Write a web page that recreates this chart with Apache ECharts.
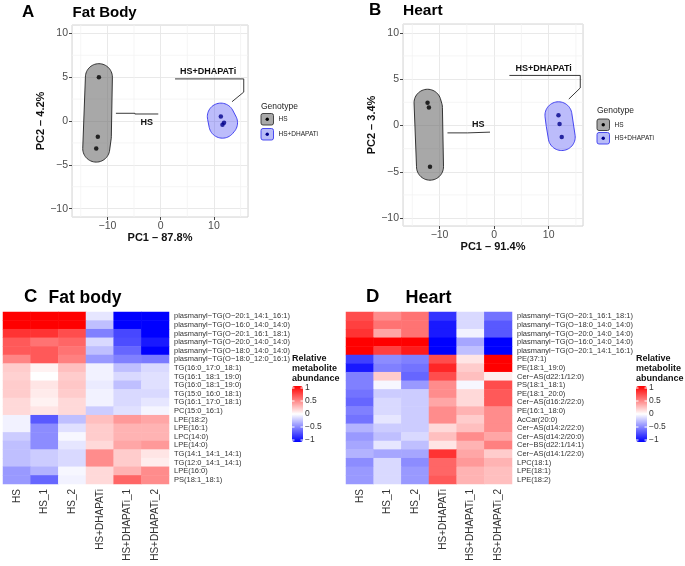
<!DOCTYPE html>
<html><head><meta charset="utf-8">
<script src="https://cdn.jsdelivr.net/npm/echarts@6/dist/echarts.min.js"></script>
<style>html,body{margin:0;padding:0;background:#fff}#c{width:685px;height:566px}</style>
</head><body><div id="c"></div>
<script>
const FONT = '"Liberation Sans", Arial, Helvetica, sans-serif';

// ---------- PCA data ----------
const fbHS = [[-11.6, 5.0], [-11.8, -1.8], [-12.1, -3.15]];
const fbDH = [[11.3, 0.5], [11.9, -0.2], [11.6, -0.42]];
const hrHS = [[-12.2, 2.45], [-11.95, 1.95], [-11.75, -4.45]];
const hrDH = [[11.8, 1.1], [12.0, 0.17], [12.4, -1.25]];
const minorX = [-15, -5, 5, 15];
const minorY = [-7.5, -2.5, 2.5, 7.5];
const groupNames = ['HS', 'HS+DHAPATi'];

// label annotations (data coordinates)
const fbAnno = [
  {label: 'HS', text: [-2.6, -0.12], line: [[-8.4, 0.88], [-4.85, 0.88], [-4.85, 0.8], [-0.45, 0.8]]},
  {label: 'HS+DHAPATi', text: [8.9, 5.6], line: [[2.7, 4.8], [15.6, 4.8], [15.6, 3.3], [13.4, 2.2]]}
];
const hrAnno = [
  {label: 'HS', text: [-2.9, 0.05], line: [[-8.55, -0.8], [-4.9, -0.8], [-0.75, -0.72]]},
  {label: 'HS+DHAPATi', text: [9.1, 6.1], line: [[2.8, 5.4], [15.8, 5.4], [15.8, 4.05], [13.7, 2.85]]}
];

// ---------- Heatmap data ----------
const samples = ['HS', 'HS_1', 'HS_2', 'HS+DHAPATi', 'HS+DHAPATi_1', 'HS+DHAPATi_2'];
const fbMetabolites = [
  'plasmanyl\u2212TG(O\u221220:1_14:1_16:1)', 'plasmanyl\u2212TG(O\u221216:0_14:0_14:0)',
  'plasmanyl\u2212TG(O\u221220:1_16:1_18:1)', 'plasmanyl\u2212TG(O\u221220:0_14:0_14:0)',
  'plasmanyl\u2212TG(O\u221218:0_14:0_14:0)', 'plasmanyl\u2212TG(O\u221218:0_12:0_16:1)',
  'TG(16:0_17:0_18:1)', 'TG(16:1_18:1_19:0)', 'TG(16:0_18:1_19:0)', 'TG(15:0_16:0_18:1)',
  'TG(16:1_17:0_18:1)', 'PC(15:0_16:1)', 'LPE(18:2)', 'LPE(16:1)', 'LPC(14:0)', 'LPE(14:0)',
  'TG(14:1_14:1_14:1)', 'TG(12:0_14:1_14:1)', 'LPE(16:0)', 'PS(18:1_18:1)'
];
const fbValues = [
  [1.0, 1.0, 1.0, -0.1, -1.0, -1.0],
  [1.0, 1.0, 1.0, -0.25, -1.0, -1.0],
  [0.8, 0.8, 0.7, -0.5, -0.72, -1.0],
  [0.65, 0.55, 0.6, -0.15, -0.7, -0.9],
  [0.65, 0.65, 0.55, -0.25, -0.6, -1.0],
  [0.48, 0.65, 0.5, -0.4, -0.5, -0.52],
  [0.2, 0.05, 0.25, -0.05, -0.25, -0.15],
  [0.18, 0.0, 0.2, -0.05, -0.15, -0.12],
  [0.2, 0.1, 0.22, -0.08, -0.25, -0.12],
  [0.2, 0.08, 0.2, -0.05, -0.15, -0.15],
  [0.15, 0.05, 0.15, -0.05, -0.15, -0.1],
  [0.15, 0.1, 0.15, -0.2, -0.12, -0.04],
  [-0.05, -0.65, -0.25, 0.25, 0.4, 0.35],
  [-0.05, -0.45, -0.12, 0.2, 0.3, 0.3],
  [-0.2, -0.45, -0.03, 0.2, 0.3, 0.3],
  [-0.25, -0.45, -0.1, 0.15, 0.35, 0.4],
  [-0.25, -0.2, -0.15, 0.45, 0.2, 0.1],
  [-0.25, -0.2, -0.15, 0.45, 0.2, 0.07],
  [-0.4, -0.3, -0.03, 0.15, 0.3, 0.45],
  [-0.4, -0.6, -0.05, 0.15, 0.6, 0.45]
];
const hrMetabolites = [
  'plasmanyl\u2212TG(O\u221220:1_16:1_18:1)', 'plasmanyl\u2212TG(O\u221218:0_14:0_14:0)',
  'plasmanyl\u2212TG(O\u221220:0_14:0_14:0)', 'plasmanyl\u2212TG(O\u221216:0_14:0_14:0)',
  'plasmanyl\u2212TG(O\u221220:1_14:1_16:1)', 'PE(37:1)', 'PE(18:1_19:0)', 'Cer\u2212AS(d22:1/12:0)',
  'PS(18:1_18:1)', 'PE(18:1_20:0)', 'Cer\u2212AS(d16:2/22:0)', 'PE(16:1_18:0)', 'AcCar(20:0)',
  'Cer\u2212AS(d14:2/22:0)', 'Cer\u2212AS(d14:2/20:0)', 'Cer\u2212BS(d22:1/14:1)', 'Cer\u2212AS(d14:1/22:0)',
  'LPC(18:1)', 'LPE(18:1)', 'LPE(18:2)'
];
const hrValues = [
  [0.7, 0.45, 0.55, -0.8, -0.15, -0.55],
  [0.75, 0.55, 0.55, -0.9, -0.15, -0.65],
  [0.8, 0.35, 0.55, -0.9, -0.05, -0.65],
  [1.0, 1.0, 1.0, -1.0, -0.35, -1.0],
  [1.0, 0.75, 0.9, -1.0, -0.25, -1.0],
  [-0.75, -0.45, -0.5, 0.7, 0.1, 1.0],
  [-0.9, -0.5, -0.55, 0.85, 0.2, 1.0],
  [-0.5, 0.2, -0.6, 0.7, 0.25, 0.07],
  [-0.5, -0.03, -0.4, 0.45, -0.03, 0.7],
  [-0.55, -0.2, -0.2, 0.45, 0.15, 0.65],
  [-0.6, -0.15, -0.2, 0.35, 0.15, 0.65],
  [-0.5, -0.15, -0.2, 0.45, 0.3, 0.45],
  [-0.55, -0.1, -0.2, 0.45, 0.2, 0.45],
  [-0.3, -0.2, -0.2, 0.15, 0.25, 0.45],
  [-0.4, -0.25, -0.15, 0.25, 0.45, 0.35],
  [-0.35, -0.1, -0.25, 0.1, 0.3, 0.5],
  [-0.3, -0.35, -0.35, 0.8, 0.35, 0.2],
  [-0.45, -0.15, -0.45, 0.6, 0.4, 0.3],
  [-0.4, -0.15, -0.4, 0.6, 0.3, 0.25],
  [-0.4, -0.15, -0.4, 0.65, 0.3, 0.25]
];
const colorbarTicks = [1, 0.5, 0, -0.5, -1];

// ---------- helpers ----------
function toHeat(vals) {
  const out = [];
  vals.forEach((row, r) => row.forEach((v, c) => out.push([c, r, v])));
  return out;
}
function convexHull(pts) {
  const p = pts.slice().sort((a, b) => a[0] - b[0] || a[1] - b[1]);
  const cross = (o, a, b) => (a[0] - o[0]) * (b[1] - o[1]) - (a[1] - o[1]) * (b[0] - o[0]);
  const lower = [], upper = [];
  for (const q of p) { while (lower.length >= 2 && cross(lower[lower.length - 2], lower[lower.length - 1], q) <= 0) lower.pop(); lower.push(q); }
  for (let i = p.length - 1; i >= 0; i--) { const q = p[i]; while (upper.length >= 2 && cross(upper[upper.length - 2], upper[upper.length - 1], q) <= 0) upper.pop(); upper.push(q); }
  upper.pop(); lower.pop();
  return lower.concat(upper);
}
function hullSeries(points, xi, fill, stroke) {
  return {
    type: 'custom', xAxisIndex: xi, yAxisIndex: xi, z: 2, silent: true,
    data: [points[0]],
    renderItem: function (params, api) {
      const r = 13.5, pts = [];
      points.forEach(p => {
        const c = api.coord(p);
        for (let k = 0; k < 60; k++) { const a = k / 60 * Math.PI * 2; pts.push([c[0] + r * Math.cos(a), c[1] + r * Math.sin(a)]); }
      });
      return {type: 'polygon', shape: {points: convexHull(pts)}, style: {fill: fill, stroke: stroke, lineWidth: 0.9}};
    }
  };
}
function minorGridSeries(xi) {
  const data = minorX.map(v => [v, 0, 0]).concat(minorY.map(v => [0, v, 1]));
  return {
    type: 'custom', xAxisIndex: xi, yAxisIndex: xi, z: 0, silent: true, data: data,
    renderItem: function (params, api) {
      const cs = params.coordSys;
      if (api.value(2) === 0) {
        const px = api.coord([api.value(0), 0])[0];
        return {type: 'line', shape: {x1: px, y1: cs.y, x2: px, y2: cs.y + cs.height}, style: {stroke: '#f3f3f3', lineWidth: 0.8}};
      }
      const py = api.coord([0, api.value(1)])[1];
      return {type: 'line', shape: {x1: cs.x, y1: py, x2: cs.x + cs.width, y2: py}, style: {stroke: '#f3f3f3', lineWidth: 0.8}};
    }
  };
}
function annoSeries(anno, xi) {
  return {
    type: 'custom', xAxisIndex: xi, yAxisIndex: xi, z: 4, silent: true,
    data: anno.map(a => a.text),
    renderItem: function (params, api) {
      const a = anno[params.dataIndex];
      const pts = a.line.map(p => api.coord(p));
      const t = api.coord(a.text);
      return {type: 'group', children: [
        {type: 'polyline', shape: {points: pts}, style: {stroke: '#222', lineWidth: 0.9, fill: null}},
        {type: 'text', x: t[0], y: t[1], style: {text: a.label, fontSize: 9, fontWeight: 'bold', fontFamily: FONT, fill: '#111', align: 'center', verticalAlign: 'middle'}}
      ]};
    }
  };
}
const minusFmt = v => (v < 0 ? '\u2212' + Math.abs(v) : String(v));
function pcaX(gi, min, max, title, gap) {
  return {
    type: 'value', gridIndex: gi, min: min, max: max, splitNumber: 3,
    name: title, nameLocation: 'middle', nameGap: gap,
    nameTextStyle: {fontFamily: FONT, fontSize: 11, fontWeight: 'bold', color: '#111'},
    axisLine: {show: false, onZero: false}, axisTick: {show: true, length: 3, lineStyle: {color: '#444'}},
    axisLabel: {showMinLabel: false, showMaxLabel: false, fontFamily: FONT, fontSize: 10.5, color: '#4d4d4d', margin: 4, formatter: minusFmt},
    splitLine: {show: true, lineStyle: {color: '#e6e6e6', width: 0.9}}
  };
}
function pcaY(gi, min, max, title, gap) {
  return {
    type: 'value', gridIndex: gi, min: min, max: max, splitNumber: 4,
    name: title, nameLocation: 'middle', nameGap: gap, nameRotate: 90,
    nameTextStyle: {fontFamily: FONT, fontSize: 11, fontWeight: 'bold', color: '#111'},
    axisLine: {show: false, onZero: false}, axisTick: {show: true, length: 3, lineStyle: {color: '#444'}},
    axisLabel: {showMinLabel: false, showMaxLabel: false, fontFamily: FONT, fontSize: 10.5, color: '#4d4d4d', margin: 4, formatter: minusFmt},
    splitLine: {show: true, lineStyle: {color: '#e6e6e6', width: 0.9}}
  };
}
function heatX(gi) {
  return {
    type: 'category', gridIndex: gi, data: samples, position: 'bottom',
    axisLine: {show: false}, axisTick: {show: false}, splitArea: {show: false},
    axisLabel: {rotate: 90, fontFamily: FONT, fontSize: 10, color: '#333', margin: 5, interval: 0}
  };
}
function heatY(gi, names) {
  return {
    type: 'category', gridIndex: gi, data: names, inverse: true, position: 'right',
    axisLine: {show: false}, axisTick: {show: false}, splitArea: {show: false},
    axisLabel: {fontFamily: FONT, fontSize: 7.5, color: '#333', margin: 5, interval: 0}
  };
}
function legendKeys(x, yTitle, yKey1, yKey2) {
  return [
    {type: 'text', x: x, y: yTitle, style: {text: 'Genotype', fontFamily: FONT, fontSize: 8.5, fill: '#222', verticalAlign: 'middle'}},
    {type: 'rect', shape: {x: x, y: yKey1, width: 12.5, height: 11.5, r: 2}, style: {fill: '#a9a9a9', stroke: '#333', lineWidth: 0.9}},
    {type: 'circle', shape: {cx: x + 6.25, cy: yKey1 + 5.75, r: 1.7}, style: {fill: '#000'}},
    {type: 'rect', shape: {x: x, y: yKey2, width: 12.5, height: 11.5, r: 2}, style: {fill: '#b9bcf7', stroke: '#3a3af0', lineWidth: 0.9}},
    {type: 'circle', shape: {cx: x + 6.25, cy: yKey2 + 5.75, r: 1.7}, style: {fill: '#00008b'}},
    {type: 'text', x: x + 17.5, y: yKey1 + 5.75, style: {text: groupNames[0], fontFamily: FONT, fontSize: 6.5, fill: '#222', verticalAlign: 'middle'}},
    {type: 'text', x: x + 17.5, y: yKey2 + 5.75, style: {text: groupNames[1], fontFamily: FONT, fontSize: 6.5, fill: '#222', verticalAlign: 'middle'}}
  ];
}
function colorbarDeco(x, top, lblX) {
  const els = [
    {type: 'text', x: x, y: top - 32, style: {text: 'Relative\nmetabolite\nabundance', fontFamily: FONT, fontSize: 9, fontWeight: 'bold', fill: '#111', lineHeight: 10, verticalAlign: 'top'}}
  ];
  colorbarTicks.forEach(v => {
    const y = top + 2 + (1 - v) / 2 * 52;
    els.push({type: 'line', shape: {x1: x, y1: y, x2: x + 2.5, y2: y}, style: {stroke: '#fff', lineWidth: 1}, z: 100});
    els.push({type: 'line', shape: {x1: x + 8.5, y1: y, x2: x + 11, y2: y}, style: {stroke: '#fff', lineWidth: 1}, z: 100});
    els.push({type: 'text', x: lblX, y: y, style: {text: minusFmt(v), fontFamily: FONT, fontSize: 8.5, fill: '#333', verticalAlign: 'middle'}});
  });
  return els;
}
function title(x, y, letter, txt, txtX, size, letterSize) {
  return [
    {type: 'text', x: x, y: y, style: {text: letter, fontFamily: FONT, fontSize: letterSize, fontWeight: 'bold', fill: '#000', verticalAlign: 'middle'}},
    {type: 'text', x: txtX, y: y + 1, style: {text: txt, fontFamily: FONT, fontSize: size, fontWeight: 'bold', fill: '#000', verticalAlign: 'middle'}}
  ];
}

const chart = echarts.init(document.getElementById('c'), null, {renderer: 'canvas'});
chart.setOption({
  backgroundColor: '#fff',
  animation: false,
  textStyle: {fontFamily: FONT},
  grid: [
    {left: 72, top: 25, width: 176, height: 192, show: true, borderColor: '#d4d4d4', borderWidth: 1, backgroundColor: 'transparent'},
    {left: 403, top: 24, width: 180, height: 202, show: true, borderColor: '#d4d4d4', borderWidth: 1, backgroundColor: 'transparent'},
    {left: 3, top: 312, width: 166, height: 172},
    {left: 346, top: 312, width: 166, height: 172}
  ],
  xAxis: [
    pcaX(0, -16.65, 16.4, 'PC1 \u2013 87.8%', 15),
    pcaX(1, -16.7, 16.3, 'PC1 \u2013 91.4%', 15),
    heatX(2), heatX(3)
  ],
  yAxis: [
    pcaY(0, -10.95, 10.95, 'PC2 \u2013 4.2%', 24),
    pcaY(1, -10.85, 10.95, 'PC2 \u2013 3.4%', 26),
    heatY(2, fbMetabolites), heatY(3, hrMetabolites)
  ],
  visualMap: [
    {type: 'continuous', min: -1, max: 1, seriesIndex: 12, calculable: false, orient: 'vertical',
     left: 292, top: 386, itemWidth: 11, itemHeight: 56, padding: 0,
     inRange: {color: ['#0000FF', '#FFFFFF', '#FF0000']}},
    {type: 'continuous', min: -1, max: 1, seriesIndex: 13, calculable: false, orient: 'vertical',
     left: 636, top: 386, itemWidth: 11, itemHeight: 56, padding: 0,
     inRange: {color: ['#0000FF', '#FFFFFF', '#FF0000']}}
  ],
  series: [
    minorGridSeries(0),                                              // 0
    minorGridSeries(1),                                              // 1
    hullSeries(fbHS, 0, 'rgba(110,110,110,0.6)', '#222'),            // 2
    hullSeries(fbDH, 0, 'rgba(70,70,245,0.36)', '#3535ee'),          // 3
    hullSeries(hrHS, 1, 'rgba(110,110,110,0.6)', '#222'),            // 4
    hullSeries(hrDH, 1, 'rgba(70,70,245,0.36)', '#3535ee'),          // 5
    {type: 'scatter', name: 'HS', xAxisIndex: 0, yAxisIndex: 0, data: fbHS, symbolSize: 4.5, itemStyle: {color: '#000'}, z: 3, silent: true},   // 6
    {type: 'scatter', name: 'HS+DHAPATi', xAxisIndex: 0, yAxisIndex: 0, data: fbDH, symbolSize: 4.5, itemStyle: {color: '#00008b'}, z: 3, silent: true}, // 7
    {type: 'scatter', name: 'HS', xAxisIndex: 1, yAxisIndex: 1, data: hrHS, symbolSize: 4.5, itemStyle: {color: '#000'}, z: 3, silent: true},   // 8
    {type: 'scatter', name: 'HS+DHAPATi', xAxisIndex: 1, yAxisIndex: 1, data: hrDH, symbolSize: 4.5, itemStyle: {color: '#00008b'}, z: 3, silent: true}, // 9
    annoSeries(fbAnno, 0),                                           // 10
    annoSeries(hrAnno, 1),                                           // 11
    {type: 'heatmap', xAxisIndex: 2, yAxisIndex: 2, data: toHeat(fbValues), itemStyle: {borderWidth: 0}, silent: true}, // 12
    {type: 'heatmap', xAxisIndex: 3, yAxisIndex: 3, data: toHeat(hrValues), itemStyle: {borderWidth: 0}, silent: true}  // 13
  ],
  graphic: [].concat(
    title(22, 12, 'A', 'Fat Body', 72.5, 15, 17),
    title(369, 10, 'B', 'Heart', 403, 15.5, 17),
    title(24, 297, 'C', 'Fat body', 48.5, 17.5, 18.5),
    title(366, 297, 'D', 'Heart', 405.5, 18, 18.5),
    legendKeys(261, 107, 113.5, 128.5),
    legendKeys(597, 110.5, 119, 132.5),
    colorbarDeco(292, 386, 305),
    colorbarDeco(636, 386, 649)
  )
});
</script>
</body></html>
